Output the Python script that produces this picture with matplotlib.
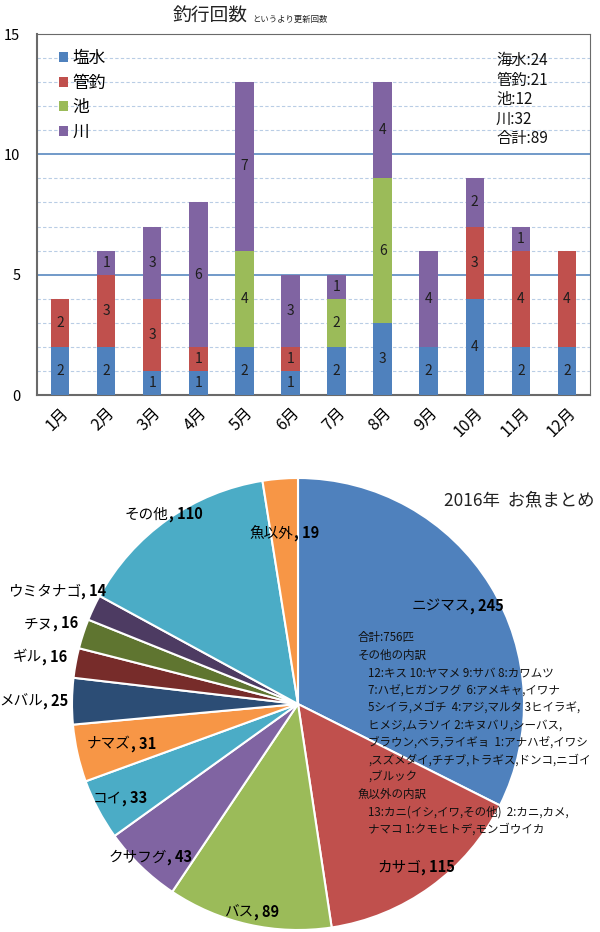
import matplotlib
matplotlib.use('Agg')
import matplotlib.pyplot as plt
import numpy as np
from matplotlib.ticker import MultipleLocator
from matplotlib.offsetbox import TextArea, HPacker, AnnotationBbox

plt.rcParams['font.family'] = ['Noto Sans CJK JP', 'DejaVu Sans']

# 月別の釣行回数
months = ['1月', '2月', '3月', '4月', '5月', '6月', '7月', '8月', '9月', '10月', '11月', '12月']
salt = [2, 2, 1, 1, 2, 1, 2, 3, 2, 4, 2, 2]
kanzuri = [2, 3, 3, 1, 0, 1, 0, 0, 0, 3, 4, 4]
ike = [0, 0, 0, 0, 4, 0, 2, 6, 0, 0, 0, 0]
kawa = [0, 1, 3, 6, 7, 3, 1, 4, 4, 2, 1, 0]
series_names = ['塩水', '管釣', '池', '川']
series_colors = ['#4F81BD', '#C0504D', '#9BBB59', '#8064A2']

# お魚まとめ
fish = ['ニジマス', 'カサゴ', 'バス', 'クサフグ', 'コイ', 'ナマズ', 'メバル',
        'ギル', 'チヌ', 'ウミタナゴ', 'その他', '魚以外']
fish_counts = [245, 115, 89, 43, 33, 31, 25, 16, 16, 14, 110, 19]
fish_colors = ['#4F81BD', '#C0504D', '#9BBB59', '#8064A2', '#4BACC6', '#F79646',
               '#2C4D75', '#772C2A', '#5F7530', '#4D3B62', '#4BACC6', '#F79646']
label_dist = [0.83, 0.89, 0.94, 0.94, 0.89, 0.80, 1.17, 1.16, 1.15, 1.18, 1.03, 0.76]

notes = ['合計:756匹',
         'その他の内訳',
         '  12:キス 10:ヤマメ 9:サバ 8:カワムツ',
         '  7:ハゼ,ヒガンフグ  6:アメキャ,イワナ',
         '  5シイラ,メゴチ  4:アジ,マルタ 3ヒイラギ,',
         '  ヒメジ,ムラソイ 2:キヌバリ,シーバス,',
         '  ブラウン,ベラ,ライギョ  1:アナハゼ,イワシ',
         '  ,スズメダイ,チチブ,トラギス,ドンコ,ニゴイ',
         '  ,ブルック',
         '魚以外の内訳',
         '  13:カニ(イシ,イワ,その他)  2:カニ,カメ,',
         '  ナマコ 1:クモヒトデ,モンゴウイカ']

W, H = 600, 932
fig = plt.figure(figsize=(6, 9.32), dpi=100)


def rect(l, t, r, b):
    return [l / W, 1 - b / H, (r - l) / W, (b - t) / H]


# ---- 棒グラフ ----
ax = fig.add_axes(rect(37, 34, 590, 395))
x = np.arange(len(months))
bottom = np.zeros(len(months))
for vals, name, col in zip([salt, kanzuri, ike, kawa], series_names, series_colors):
    vals = np.array(vals, dtype=float)
    ax.bar(x, vals, 0.4, bottom=bottom, color=col, label=name, zorder=3)
    for xi, v, b in zip(x, vals, bottom):
        if v > 0:
            ax.text(xi, b + v / 2, str(int(v)), ha='center', va='center',
                    fontsize=10, color='#1e1e1e', zorder=4)
    bottom += vals

ax.set_xlim(-0.5, len(months) - 0.5)
ax.set_ylim(0, 15)
ax.yaxis.set_major_locator(MultipleLocator(5))
ax.yaxis.set_minor_locator(MultipleLocator(1))
ax.grid(axis='y', which='minor', ls=(0, (3, 2)), color='#B9CDE5', lw=0.8, zorder=0)
ax.grid(axis='y', which='major', color='#4A7EBB', lw=1.1, zorder=1)
ax.set_xticks(x)
ax.set_xticklabels(months, rotation=45, ha='right', rotation_mode='anchor', fontsize=11.5)
ax.tick_params(axis='both', which='both', length=0)
ax.tick_params(axis='y', pad=12, labelsize=10.5)
ax.tick_params(axis='x', pad=7)
for s in ax.spines.values():
    s.set_color('#6a6a6a')
ax.spines['left'].set_linewidth(1.5)
ax.spines['bottom'].set_linewidth(1.5)

ax.legend(loc='upper left', bbox_to_anchor=(0.025, 0.978), frameon=False,
          handlelength=0.55, handleheight=0.55, handletextpad=0.25,
          labelspacing=0.45, fontsize=12, borderpad=0)

totals = [sum(salt), sum(kanzuri), sum(ike), sum(kawa)]
summary = '海水:%d\n管釣:%d\n池:%d\n川:%d\n合計:%d' % (totals[0], totals[1], totals[2],
                                                 totals[3], sum(totals))
ax.text(0.83, 0.95, summary, transform=ax.transAxes, ha='left', va='top',
        fontsize=11, linespacing=1.2, color='#111111')

fig.text(248 / W, 1 - 22 / H, '釣行回数', ha='right', va='baseline', fontsize=13.5, color='#222222')
fig.text(252 / W, 1 - 22 / H, 'というより更新回数', ha='left', va='baseline', fontsize=6,
         color='#222222')

# ---- 円グラフ ----
cx, cy, r = 298, 704, 226
pax = fig.add_axes(rect(cx - r, cy - r, cx + r, cy + r))
pax.pie(fish_counts, colors=fish_colors, startangle=90, counterclock=False,
        wedgeprops=dict(edgecolor='white', linewidth=1.5))
pax.set_xlim(-1, 1)
pax.set_ylim(-1, 1)
pax.set_aspect('equal')
pax.axis('off')

total = sum(fish_counts)
cum = np.cumsum(fish_counts)
for name, v, c, d in zip(fish, fish_counts, cum, label_dist):
    ang = np.deg2rad(90 - 360 * (c - v / 2) / total)
    box = HPacker(children=[
        TextArea(name, textprops=dict(fontsize=10.5, color='black')),
        TextArea(', %d' % v, textprops=dict(fontsize=10.5, fontweight='bold', color='black')),
    ], pad=0, sep=0, align='baseline')
    ab = AnnotationBbox(box, (d * np.cos(ang), d * np.sin(ang)), xycoords='data',
                        frameon=False, box_alignment=(0.5, 0.5), annotation_clip=False)
    pax.add_artist(ab)

fig.text(519 / W, 1 - 500 / H, '2016年  お魚まとめ', ha='center', va='center', fontsize=12.5,
         color='#222222')

y0 = 638
for i, line in enumerate(notes):
    indent = 10 if line.startswith('  ') else 0
    fig.text((358 + indent) / W, 1 - (y0 + i * 17.4) / H, line.strip(), ha='left',
             va='center', fontsize=8.3, color='#111111')

fig.savefig('out.png', dpi=100)
